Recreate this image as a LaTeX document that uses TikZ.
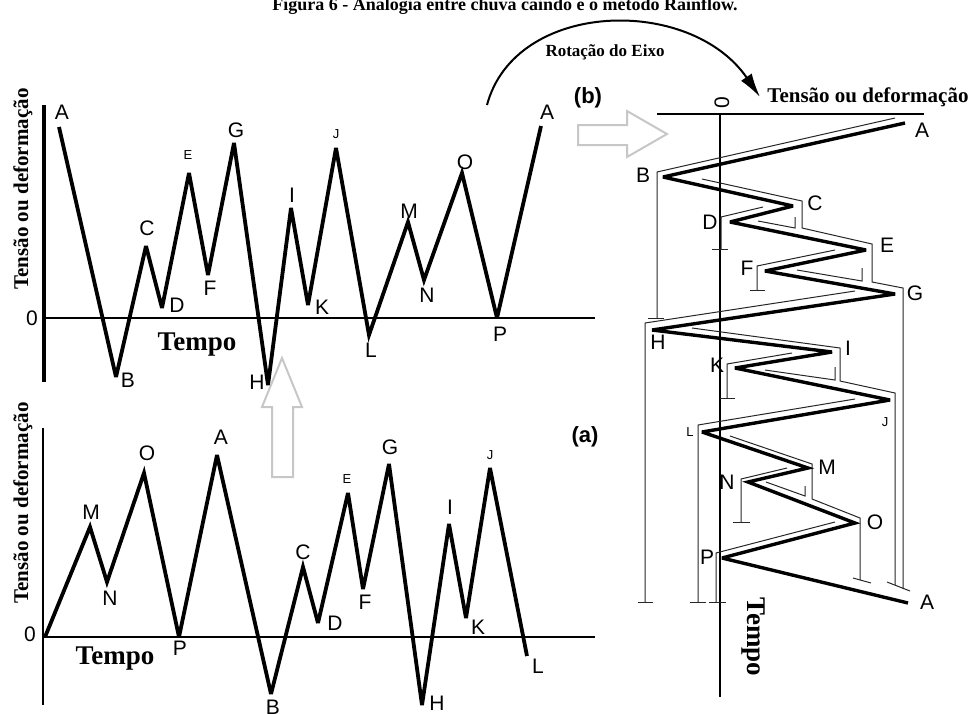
\documentclass[tikz,border=0pt]{standalone}
\usepackage{fontspec}
\setmainfont{Liberation Serif}
\setsansfont{Liberation Sans}
\usetikzlibrary{arrows.meta}
\tikzset{
  zig/.style={line width=3.8pt, line join=miter, miter limit=4},
  rzig/.style={line width=3.4pt, line join=miter, miter limit=4},
  thinflow/.style={line width=1pt, color=black!85},
  lab/.style={font=\sffamily\fontsize{21}{21}\selectfont, inner sep=0pt},
  slab/.style={font=\sffamily\fontsize{13}{13}\selectfont, inner sep=0pt},
  axlab/.style={font=\bfseries\fontsize{21}{21}\selectfont, inner sep=0pt},
  tlab/.style={font=\bfseries\fontsize{27}{27}\selectfont, inner sep=0pt},
  plab/.style={font=\sffamily\bfseries\fontsize{22}{22}\selectfont, inner sep=0pt},
  garrow/.style={draw=black!22, line width=2pt, fill=white, line join=miter}
}
\begin{document}
\begin{tikzpicture}[x=1pt,y=-1pt]
\useasboundingbox (0,0) rectangle (980,713);

% title (cut by top edge)
\node[font=\bfseries\fontsize{18}{18}\selectfont, anchor=base, inner sep=0pt] (title) at (505,10) {Figura 6 - Analogia entre chuva caindo e o método Rainflow.};

% ================= top-left chart (b, time history) =================
\coordinate (tyT) at (44,105); \coordinate (tyB) at (44,382);
\coordinate (txL) at (44,318); \coordinate (txR) at (595,318);
\draw[line width=3.8pt] (tyT) -- (tyB);
\draw[line width=2pt] (txL) -- (txR);
\node[lab] (t0) at (32,318) {0};
\node[axlab, rotate=90] (tyl) at (23,189) {Tensão ou deformação};
\node[tlab] (ttempo) at (197,345) {Tempo};

\coordinate (tA) at (59,127);  \coordinate (tB) at (116,377);
\coordinate (tC) at (146,246); \coordinate (tD) at (162,308);
\coordinate (tE) at (189,173); \coordinate (tF) at (208,275);
\coordinate (tG) at (234,143); \coordinate (tH) at (268,385);
\coordinate (tI) at (291,208); \coordinate (tK) at (308,305);
\coordinate (tJ) at (336,148); \coordinate (tL) at (369,335);
\coordinate (tM) at (408,222); \coordinate (tN) at (424,280);
\coordinate (tO) at (462,173); \coordinate (tP) at (497,318);
\coordinate (tA2) at (541,126);
\draw[zig] (tA) -- (tB) -- (tC) -- (tD) -- (tE) -- (tF) -- (tG) -- (tH) -- (tI) -- (tK) -- (tJ) -- (tL) -- (tM) -- (tN) -- (tO) -- (tP) -- (tA2);

\node[lab] (ltA) at (62,112) {A};
\node[lab] (ltB) at (128,380) {B};
\node[lab] (ltC) at (147,228) {C};
\node[lab] (ltD) at (177,305) {D};
\node[slab] (ltE) at (188,155) {E};
\node[lab] (ltF) at (210,288) {F};
\node[lab] (ltG) at (236,130) {G};
\node[lab] (ltH) at (257,382) {H};
\node[lab] (ltI) at (292,195) {I};
\node[lab] (ltK) at (322,307) {K};
\node[slab] (ltJ) at (336,134) {J};
\node[lab] (ltL) at (371,350) {L};
\node[lab] (ltM) at (409,211) {M};
\node[lab] (ltN) at (427,295) {N};
\node[lab] (ltO) at (465,162) {O};
\node[lab] (ltP) at (500,334) {P};
\node[lab] (ltA2) at (547,112) {A};
\node[plab] (lb) at (588,98) {(b)};

% ================= bottom-left chart (a) =================
\coordinate (byT) at (43,428); \coordinate (byB) at (43,705);
\coordinate (bxL) at (43,637); \coordinate (bxR) at (595,637);
\draw[line width=2.8pt] (byT) -- (byB);
\draw[line width=2.2pt] (bxL) -- (bxR);
\node[lab] (b0) at (30,634) {0};
\node[axlab, rotate=90] (byl) at (23,503) {Tensão ou deformação};
\node[tlab] (btempo) at (115,659) {Tempo};

\coordinate (b0p) at (45,637);
\coordinate (bM) at (90,527);  \coordinate (bN) at (107,582);
\coordinate (bO) at (144,473); \coordinate (bP) at (179,637);
\coordinate (bA) at (217,455); \coordinate (bB) at (271,694);
\coordinate (bC) at (303,567); \coordinate (bD) at (318,623);
\coordinate (bE) at (348,493); \coordinate (bF) at (363,589);
\coordinate (bG) at (389,464); \coordinate (bH) at (422,705);
\coordinate (bI) at (449,524); \coordinate (bK) at (466,618);
\coordinate (bJ) at (490,468); \coordinate (bL) at (527,656);
\draw[zig] (b0p) -- (bM) -- (bN) -- (bO) -- (bP) -- (bA) -- (bB) -- (bC) -- (bD) -- (bE) -- (bF) -- (bG) -- (bH) -- (bI) -- (bK) -- (bJ) -- (bL);

\node[lab] (lbM) at (91,512) {M};
\node[lab] (lbN) at (110,598) {N};
\node[lab] (lbO) at (147,453) {O};
\node[lab] (lbP) at (180,648) {P};
\node[lab] (lbA) at (221,437) {A};
\node[lab] (lbB) at (273,707) {B};
\node[lab] (lbC) at (303,552) {C};
\node[lab] (lbD) at (335,623) {D};
\node[slab] (lbE) at (347,479) {E};
\node[lab] (lbF) at (365,602) {F};
\node[lab] (lbG) at (390,447) {G};
\node[lab] (lbH) at (437,703) {H};
\node[lab] (lbI) at (450,507) {I};
\node[lab] (lbK) at (478,627) {K};
\node[slab] (lbJ) at (490,455) {J};
\node[lab] (lbL) at (538,666) {L};
\node[plab] (la) at (585,437) {(a)};

% grey arrows
\draw[garrow] (272,477) -- (272,407) -- (262,407) -- (282,358) -- (302,407) -- (293,407) -- (293,477) -- cycle;
\draw[garrow] (578,125) -- (627,125) -- (627,111) -- (667,134) -- (627,157) -- (627,145) -- (578,145) -- cycle;

% rotation arrow
\coordinate (rotS) at (487,105); \coordinate (rotE) at (760,97);
\draw[line width=2pt, -{Latex[length=24pt,width=13pt]}] (rotS) .. controls (515,0) and (690,-5) .. (rotE);
\node[font=\bfseries\fontsize{17}{17}\selectfont, inner sep=0pt] (rotlab) at (605,52) {Rotação do Eixo};

% ================= right chart (rainflow) =================
\coordinate (rxL) at (657,114); \coordinate (rxR) at (924,114);
\coordinate (ryT) at (720,114); \coordinate (ryB) at (720,697);
\draw[line width=2pt] (rxL) -- (rxR);
\draw[line width=1.5pt] (ryT) -- (ryB);
\node[lab, rotate=90] (r0) at (722,103) {0};
\node[axlab] (rxl) at (868,97) {Tensão ou deformação};
\node[tlab, rotate=-90] (rtempo) at (753,637) {Tempo};

\coordinate (rA) at (905,123); \coordinate (rB) at (663,177);
\coordinate (rC) at (793,206); \coordinate (rD) at (730,222);
\coordinate (rE) at (866,250); \coordinate (rF) at (765,271);
\coordinate (rG) at (895,294); \coordinate (rH) at (652,330);
\coordinate (rI) at (832,352); \coordinate (rK) at (735,368);
\coordinate (rJ) at (890,400); \coordinate (rL) at (702,432);
\coordinate (rM) at (808,468); \coordinate (rN) at (748,482);
\coordinate (rO) at (855,523); \coordinate (rP) at (722,558);
\coordinate (rA2) at (908,603);

% thin flow paths
\draw[thinflow] (895,118) -- (657,172) -- (657,318);
\draw[thinflow] (648,318) -- (664,318);
\draw[thinflow] (702,179) -- (802,201) -- (802,228) -- (872,244) -- (872,282) -- (903,288) -- (903,589);
\draw[thinflow] (763,207) -- (721,217) -- (721,249);
\draw[thinflow] (712,249) -- (728,249);
\draw[thinflow] (758,221) -- (795,228) -- (795,217);
\draw[thinflow] (835,250) -- (757,266) -- (757,290);
\draw[thinflow] (750,290) -- (765,290);
\draw[thinflow] (797,270) -- (862,281) -- (862,268);
\draw[thinflow] (855,291) -- (645,323) -- (645,602);
\draw[thinflow] (638,602) -- (653,602);
\draw[thinflow] (692,328) -- (840,348) -- (840,381) -- (895,393) -- (895,585);
\draw[thinflow] (887,582) -- (910,591);
\draw[thinflow] (792,353) -- (727,364) -- (727,398);
\draw[thinflow] (720,398) -- (735,398);
\draw[thinflow] (765,370) -- (835,380) -- (835,367);
\draw[thinflow] (855,399) -- (698,425) -- (698,602);
\draw[thinflow] (690,602) -- (706,602);
\draw[thinflow] (730,436) -- (812,464) -- (812,499) -- (860,518) -- (860,580);
\draw[thinflow] (853,578) -- (871,583);
\draw[thinflow] (766,482) -- (805,496) -- (805,486);
\draw[thinflow] (787,468) -- (741,479) -- (741,522);
\draw[thinflow] (733,522) -- (750,522);
\draw[thinflow] (835,522) -- (716,553) -- (716,602);
\draw[thinflow] (709,602) -- (726,602);

\draw[rzig] (rA) -- (rB) -- (rC) -- (rD) -- (rE) -- (rF) -- (rG) -- (rH) -- (rI) -- (rK) -- (rJ) -- (rL) -- (rM) -- (rN) -- (rO) -- (rP) -- (rA2);

\node[lab] (lrA) at (922,130) {A};
\node[lab] (lrB) at (643,175) {B};
\node[lab] (lrC) at (815,203) {C};
\node[lab] (lrD) at (710,222) {D};
\node[lab] (lrE) at (887,245) {E};
\node[lab] (lrF) at (747,268) {F};
\node[lab] (lrG) at (915,293) {G};
\node[lab] (lrH) at (658,342) {H};
\node[lab] (lrI) at (848,348) {I};
\node[lab] (lrK) at (717,365) {K};
\node[slab] (lrJ) at (885,422) {J};
\node[slab] (lrL) at (690,432) {L};
\node[lab] (lrM) at (827,467) {M};
\node[lab] (lrN) at (727,482) {N};
\node[lab] (lrO) at (875,522) {O};
\node[lab] (lrP) at (707,557) {P};
\node[lab] (lrA2) at (927,602) {A};
\end{tikzpicture}
\end{document}
